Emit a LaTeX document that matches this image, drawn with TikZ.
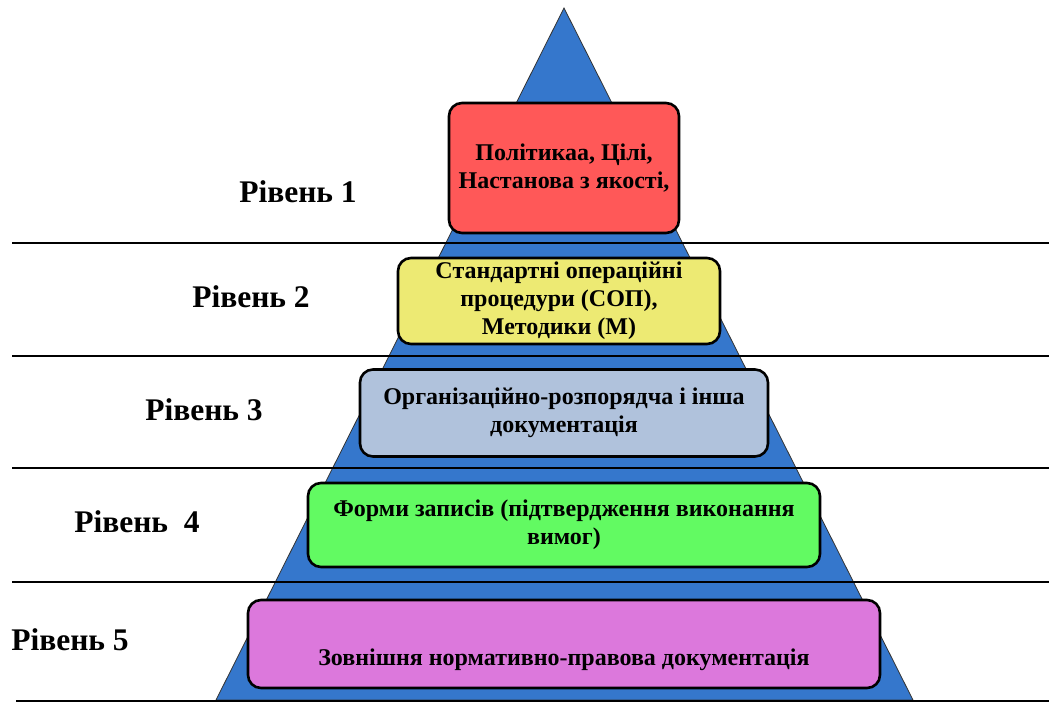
\documentclass[tikz,border=0pt]{standalone}
\usepackage{fontspec}
\setmainfont{Liberation Serif}[BoldFont={Liberation Serif Bold}]
\begin{document}
\begin{tikzpicture}[x=1pt,y=-1pt,
  lvl/.style={font=\fontsize{31.5}{34}\selectfont\bfseries, text=black},
  box/.style={draw=black, line width=2.6pt, rounded corners=13pt, align=center, inner sep=0pt,
    font=\fontsize{24}{28}\selectfont\bfseries},
  sep/.style={draw=black, line width=2pt}]
\useasboundingbox (0,0) rectangle (1049,702);
\definecolor{tri}{HTML}{3577CC}
\definecolor{rd}{HTML}{FF5858}
\definecolor{yl}{HTML}{EDEA73}
\definecolor{gb}{HTML}{B0C2DC}
\definecolor{gr}{HTML}{62FA62}
\definecolor{vi}{HTML}{DC78DC}
\coordinate (apex) at (564,8);
\coordinate (bl) at (216,700);
\coordinate (br) at (913,700);
\fill[tri, draw=black!80, line width=0.8pt] (apex) -- (br) -- (bl) -- cycle;
\foreach \y/\xs in {243/12,356/12,468/12,582/12,701/16}{
  \draw[sep] (\xs,\y) -- (1049,\y);
}
\node[box, fill=rd, minimum width=230pt, minimum height=130pt] (b1) at (564,168)
  {Політикаа, Цілі,\\Настанова з якості,};
\node[box, fill=yl, minimum width=322pt, minimum height=86pt] (b2) at (559,301)
  {Стандартні операційні\\процедури (СОП),\\Методики (М)};
\node[box, fill=gb, minimum width=408pt, minimum height=87pt] (b3) at (564,413)
  {Організаційно-розпорядча і інша\\документація};
\node[box, fill=gr, minimum width=512pt, minimum height=84pt] (b4) at (564,525)
  {Форми записів (підтвердження виконання\\вимог)};
\node[box, fill=vi, minimum width=632pt, minimum height=88pt] (b5) at (564,644)
  {\strut\\Зовнішня нормативно-правова документація};
\node[lvl] (l1) at (298,192) {Рівень 1};
\node[lvl] (l2) at (251,297) {Рівень 2};
\node[lvl] (l3) at (204,410) {Рівень 3};
\node[lvl] (l4) at (137,522) {Рівень\ \ 4};
\node[lvl] (l5) at (70,640) {Рівень 5};
\end{tikzpicture}
\end{document}
